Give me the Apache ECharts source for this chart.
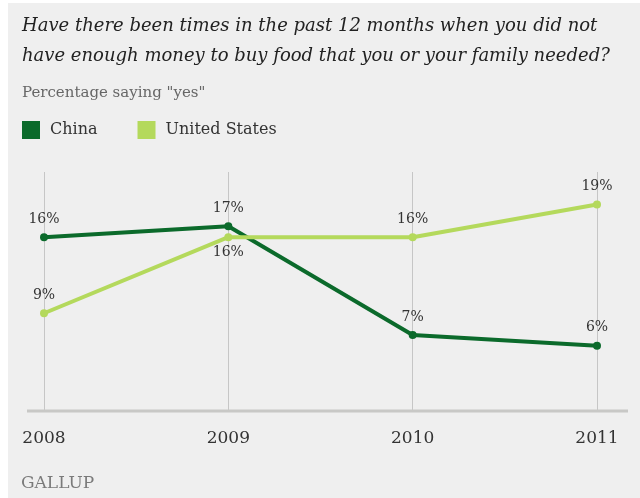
<!DOCTYPE html>
<html>
<head>
<meta charset="utf-8">
<script src="https://cdn.jsdelivr.net/npm/echarts@6/dist/echarts.min.js"></script>
<style>
  html, body { margin: 0; padding: 0; background: #ffffff; }
  #chart { position: absolute; left: 8px; top: 3px; width: 632px; height: 495px; }
</style>
</head>
<body>
<div id="chart"></div>
<script>
// Survey years and share of respondents answering "yes" (%)
const years = ['2008', '2009', '2010', '2011'];
const china = [16, 17, 7, 6];
const unitedStates = [9, 16, 16, 19];
const usLabelBelow = [false, true, false, false];

const SERIF = '"DejaVu Serif", "Liberation Serif", serif';
const CHINA_GREEN = '#0b6a2b';
const US_GREEN = '#b4d95c';

function withLabels(values, below) {
  return values.map((v, i) => ({
    value: v,
    label: below && below[i]
      ? { position: 'bottom', distance: 4 }
      : { position: 'top', distance: 7 }
  }));
}

const valueLabel = {
  show: true,
  formatter: '{c}%',
  fontFamily: SERIF,
  fontSize: 14,
  color: '#333333'
};

const chart = echarts.init(document.getElementById('chart'));
chart.setOption({
  backgroundColor: '#efefef',
  animation: false,
  textStyle: { fontFamily: SERIF },
  title: [{
    text: 'Have there been times in the past 12 months when you did not\nhave enough money to buy food that you or your family needed?',
    left: 14,
    top: 8,
    padding: 0,
    textStyle: {
      fontFamily: SERIF,
      fontStyle: 'italic',
      fontWeight: 'normal',
      fontSize: 18,
      lineHeight: 30,
      color: '#222222'
    }
  }, {
    text: 'Percentage saying "yes"',
    left: 14,
    top: 82,
    padding: 0,
    textStyle: {
      fontFamily: SERIF,
      fontWeight: 'normal',
      fontSize: 15,
      lineHeight: 16,
      color: '#666666'
    }
  }],
  legend: {
    left: 14,
    top: 118,
    padding: 0,
    icon: 'rect',
    itemWidth: 18,
    itemHeight: 18,
    itemGap: 40,
    textStyle: { fontFamily: SERIF, fontSize: 16, color: '#333333', padding: [0, 0, 0, 5] },
    data: ['China', 'United States']
  },
  grid: { left: 36, right: 43, top: 169, bottom: 87 },
  xAxis: {
    type: 'category',
    data: years,
    boundaryGap: false,
    axisLine: { show: false },
    axisTick: { show: false },
    axisLabel: {
      margin: 19,
      fontFamily: SERIF,
      fontSize: 17,
      color: '#333333'
    },
    splitLine: { show: true, lineStyle: { color: '#c6c6c6', width: 1 } }
  },
  yAxis: {
    type: 'value',
    min: 0,
    max: 22,
    show: false
  },
  graphic: [{
    type: 'line',
    shape: { x1: 19, y1: 408, x2: 620, y2: 408 },
    style: { stroke: '#c8c8c6', lineWidth: 3 },
    z: 1
  }, {
    type: 'text',
    left: 13,
    top: 472,
    style: {
      text: 'GALLUP',
      font: '17px ' + SERIF,
      fill: '#7a7a7a'
    }
  }],
  series: [{
    name: 'China',
    type: 'line',
    data: withLabels(china),
    symbol: 'circle',
    symbolSize: 8,
    lineStyle: { width: 4, color: CHINA_GREEN },
    itemStyle: { color: CHINA_GREEN },
    label: valueLabel,
    z: 3
  }, {
    name: 'United States',
    type: 'line',
    data: withLabels(unitedStates, usLabelBelow),
    symbol: 'circle',
    symbolSize: 8,
    lineStyle: { width: 4, color: US_GREEN },
    itemStyle: { color: US_GREEN },
    label: valueLabel,
    z: 4
  }]
});
</script>
</body>
</html>
